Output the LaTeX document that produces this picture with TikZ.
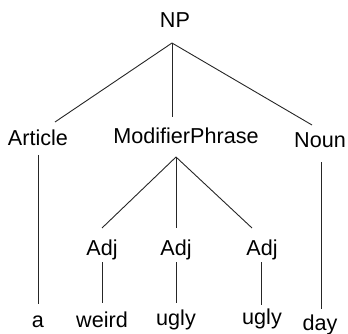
\documentclass[tikz,border=0pt]{standalone}
\usepackage{fontspec}
\setmainfont{Liberation Sans}
\begin{document}
\begin{tikzpicture}[x=1pt,y=-1pt,
  lbl/.style={anchor=base,inner sep=0pt,font=\fontsize{21.6}{26}\selectfont},
  edge/.style={line width=0.9pt,black!85}]
\useasboundingbox (0,0) rectangle (348,334);
\node[lbl] (np) at (175,28) {NP};
\node[lbl] (art) at (38,146) {Article};
\node[lbl] (mp) at (186,144) {ModifierPhrase};
\node[lbl] (noun) at (320,148) {Noun};
\node[lbl] (adj1) at (102,255) {Adj};
\node[lbl] (adj2) at (176,255) {Adj};
\node[lbl] (adj3) at (262,255) {Adj};
\node[lbl] (wa) at (38,327) {a};
\node[lbl] (wweird) at (102,327) {weird};
\node[lbl] (wugly1) at (176,325) {ugly};
\node[lbl] (wugly2) at (262,324) {ugly};
\node[lbl] (wday) at (320,330) {day};
% NP edges
\draw[edge] ([shift={(-3,15)}]np.base) -- ([shift={(17,-24)}]art.base);
\draw[edge] ([shift={(-3,15)}]np.base) -- ([shift={(-14,-27)}]mp.base);
\draw[edge] ([shift={(-3,15)}]np.base) -- ([shift={(-8,-23)}]noun.base);
% Article, Noun
\draw[edge] ([shift={(0,9)}]art.base) -- ([shift={(0,-23)}]wa.base);
\draw[edge] ([shift={(1,14)}]noun.base) -- ([shift={(1,-21)}]wday.base);
% ModifierPhrase edges
\draw[edge] ([shift={(-10,13)}]mp.base) -- ([shift={(0,-27)}]adj1.base);
\draw[edge] ([shift={(-10,13)}]mp.base) -- ([shift={(0,-27)}]adj2.base);
\draw[edge] ([shift={(-10,13)}]mp.base) -- ([shift={(-10,-27)}]adj3.base);
% Adj edges
\draw[edge] ([shift={(0,7)}]adj1.base) -- ([shift={(0,-24)}]wweird.base);
\draw[edge] ([shift={(0,7)}]adj2.base) -- ([shift={(0,-22)}]wugly1.base);
\draw[edge] ([shift={(-1,7)}]adj3.base) -- ([shift={(-1,-19)}]wugly2.base);
\end{tikzpicture}
\end{document}
